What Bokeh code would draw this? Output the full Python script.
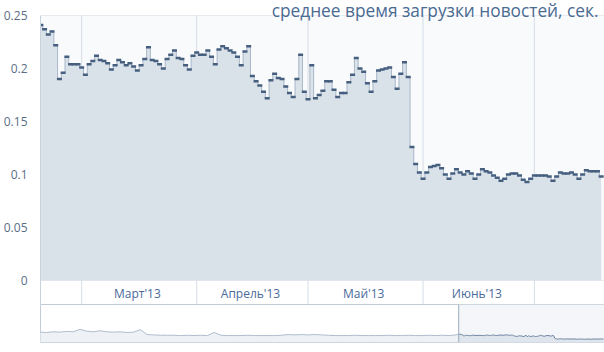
import pandas as pd
from bokeh.plotting import figure
from bokeh.models import Range1d, FixedTicker, Label, ColumnDataSource, Span, BoxAnnotation
from bokeh.layouts import column
from bokeh.core.properties import value
from bokeh.embed import file_html
from bokeh.resources import INLINE

# ---- data ----
title_text = "среднее время загрузки новостей, сек."
start_date = "2013-02-18"
load_time = [
    0.241, 0.237, 0.232, 0.235, 0.222, 0.190, 0.196, 0.211, 0.204, 0.204,
    0.204, 0.201, 0.194, 0.204, 0.207, 0.212, 0.208, 0.207, 0.205, 0.199,
    0.203, 0.208, 0.206, 0.203, 0.205, 0.202, 0.198, 0.203, 0.209, 0.220,
    0.208, 0.207, 0.204, 0.200, 0.209, 0.213, 0.217, 0.210, 0.209, 0.203,
    0.199, 0.212, 0.215, 0.213, 0.213, 0.217, 0.211, 0.204, 0.218, 0.221,
    0.219, 0.217, 0.215, 0.211, 0.203, 0.216, 0.221, 0.193, 0.188, 0.184,
    0.178, 0.172, 0.189, 0.195, 0.191, 0.190, 0.183, 0.177, 0.173, 0.190,
    0.213, 0.178, 0.171, 0.203, 0.172, 0.175, 0.179, 0.188, 0.188, 0.180,
    0.173, 0.177, 0.177, 0.187, 0.194, 0.210, 0.200, 0.197, 0.186, 0.178,
    0.188, 0.198, 0.199, 0.200, 0.201, 0.192, 0.181, 0.195, 0.206, 0.192,
    0.126, 0.110, 0.102, 0.096, 0.102, 0.107, 0.108, 0.109, 0.106, 0.100,
    0.096, 0.101, 0.105, 0.102, 0.100, 0.103, 0.101, 0.096, 0.100, 0.105,
    0.103, 0.102, 0.099, 0.097, 0.094, 0.096, 0.100, 0.101, 0.101, 0.099,
    0.095, 0.093, 0.096, 0.099, 0.099, 0.099, 0.099, 0.098, 0.094, 0.098,
    0.102, 0.101, 0.101, 0.102, 0.100, 0.096, 0.100, 0.104, 0.103, 0.103,
    0.103, 0.098,
]
# longer weekly history shown in the navigator
history_start = "2011-12-09"
history = [
    0.30, 0.29, 0.31, 0.30, 0.32, 0.31, 0.38, 0.33, 0.31, 0.34,
    0.31, 0.30, 0.31, 0.29, 0.30, 0.37, 0.23, 0.22, 0.21, 0.21,
    0.21, 0.20, 0.21, 0.20, 0.21, 0.20, 0.29, 0.21, 0.20, 0.20,
    0.20, 0.21, 0.20, 0.20, 0.20, 0.20, 0.21, 0.23, 0.22, 0.23,
    0.22, 0.23, 0.22, 0.21, 0.20, 0.20, 0.20, 0.21, 0.20, 0.20,
    0.20, 0.20, 0.21, 0.20, 0.20, 0.21, 0.20, 0.20, 0.21, 0.20,
    0.21, 0.20, 0.22,
]
month_starts = ["2013-03-01", "2013-04-01", "2013-05-01", "2013-06-01", "2013-07-01"]
month_labels = ["Март'13", "Апрель'13", "Май'13", "Июнь'13"]
month_label_pos = ["2013-03-16 00:00", "2013-04-15 12:00", "2013-05-16 00:00", "2013-06-15 12:00"]
y_ticks = [0, 0.05, 0.1, 0.15, 0.2, 0.25]
y_tick_labels = ["0", "0.05", "0.1", "0.15", "0.2", "0.25"]

# ---- derived ----
dates = pd.date_range(start_date, periods=len(load_time), freq="D")
hist_dates = pd.date_range(history_start, periods=len(history), freq="7D")

def ms(t):
    return pd.Timestamp(t).value / 1e6

x_start = pd.Timestamp(start_date) - pd.Timedelta(hours=2.4)
x_end = x_start + pd.Timedelta(days=152)
nav_start = x_end - pd.Timedelta(days=588)

PX = 1060.0  # pixels per unit on the main y scale
y_lo = -24 / PX
y_hi = 0.25 + 15 / PX
y_top = y_ticks[-1]

src = ColumnDataSource(dict(x=dates, y=load_time))

FONT = "Open Sans"

p = figure(width=604, height=304, x_axis_type="datetime",
           x_range=Range1d(x_start, x_end), y_range=Range1d(y_lo, y_hi),
           output_backend="svg", toolbar_location=None, title=None,
           min_border_left=40, min_border_right=0, min_border_top=0, min_border_bottom=0,
           background_fill_color="white", border_fill_color="white",
           outline_line_color=None)

p.add_layout(BoxAnnotation(bottom=0, top=y_top, fill_color="#f9fafc", fill_alpha=1,
                           line_color=None, level="underlay"))

p.xaxis.visible = False
p.xgrid.visible = False
p.ygrid.ticker = FixedTicker(ticks=y_ticks)
p.ygrid.grid_line_color = "#d6dde5"

# vertical month separators (from the label band up to the top tick)
sep_x = [pd.Timestamp(m) for m in month_starts]
p.segment(x0=sep_x, y0=[y_lo] * len(sep_x), x1=sep_x, y1=[y_top] * len(sep_x),
          line_color="#d6dde5", line_width=1)

p.yaxis.ticker = FixedTicker(ticks=y_ticks)
p.yaxis.bounds = (y_lo, y_top)
p.yaxis.major_label_overrides = {t: l for t, l in zip(y_ticks, y_tick_labels)}
p.yaxis.axis_line_color = "#c9d1db"
p.yaxis.major_tick_line_color = None
p.yaxis.minor_tick_line_color = None
p.yaxis.major_label_standoff = 7
p.yaxis.major_label_text_font = FONT
p.yaxis.major_label_text_font_size = "12px"
p.yaxis.major_label_text_color = "#5b6d86"

p.varea_step(x="x", y1=0, y2="y", step_mode="center", fill_color="#d9e1e9", source=src)
p.step("x", "y", mode="center", line_color="#a9b8c9", line_width=1, source=src)
p.scatter("x", "y", marker="dash", size=5, line_width=2.5, line_color="#465f7f", source=src)

label_x = [pd.Timestamp(t) for t in month_label_pos]
p.text(x=label_x, y=[-13 / PX] * len(month_labels), text=month_labels,
       text_align="center", text_baseline="middle", text_font=value(FONT),
       text_font_size="12px", text_color="#4a6a9c")

p.add_layout(Label(x=ms(x_end), y=y_top + 5 / PX, x_offset=-6, y_offset=0, text=title_text,
                   text_align="right", text_baseline="alphabetic", text_font=FONT,
                   text_font_size="17.3px", text_color="#4a6b92"))

# ---- navigator ----
nav = figure(width=604, height=48, x_range=Range1d(nav_start, x_end), y_range=Range1d(0, 1.1),
             x_axis_type=None, y_axis_type=None, output_backend="svg", toolbar_location=None,
             title=None, min_border_left=39, min_border_right=0, min_border_top=0,
             min_border_bottom=10, outline_line_color="#c3cbd5",
             background_fill_color="white", border_fill_color="white")
nav.add_layout(BoxAnnotation(left=ms(x_start), right=ms(x_end), fill_color="#f4f6f9",
                             fill_alpha=1, line_color=None, level="underlay"))
hx = list(hist_dates) + [dates[0]]
hy = history + [load_time[0]]
nav.varea(x=hx, y1=0, y2=hy, fill_color="#eef2f6")
nav.line(x=hx, y=hy, line_color="#aebccc", line_width=1)
nav.varea(x=dates, y1=0, y2=load_time, fill_color="#dfe5ec")
nav.line(x=dates, y=load_time, line_color="#6b819e", line_width=1)
nav.add_layout(Span(location=ms(x_start), dimension="height", line_color="#9aabbd", line_width=1))

layout = column(p, nav, spacing=0)
open("out.html", "w").write(file_html(layout, INLINE))
